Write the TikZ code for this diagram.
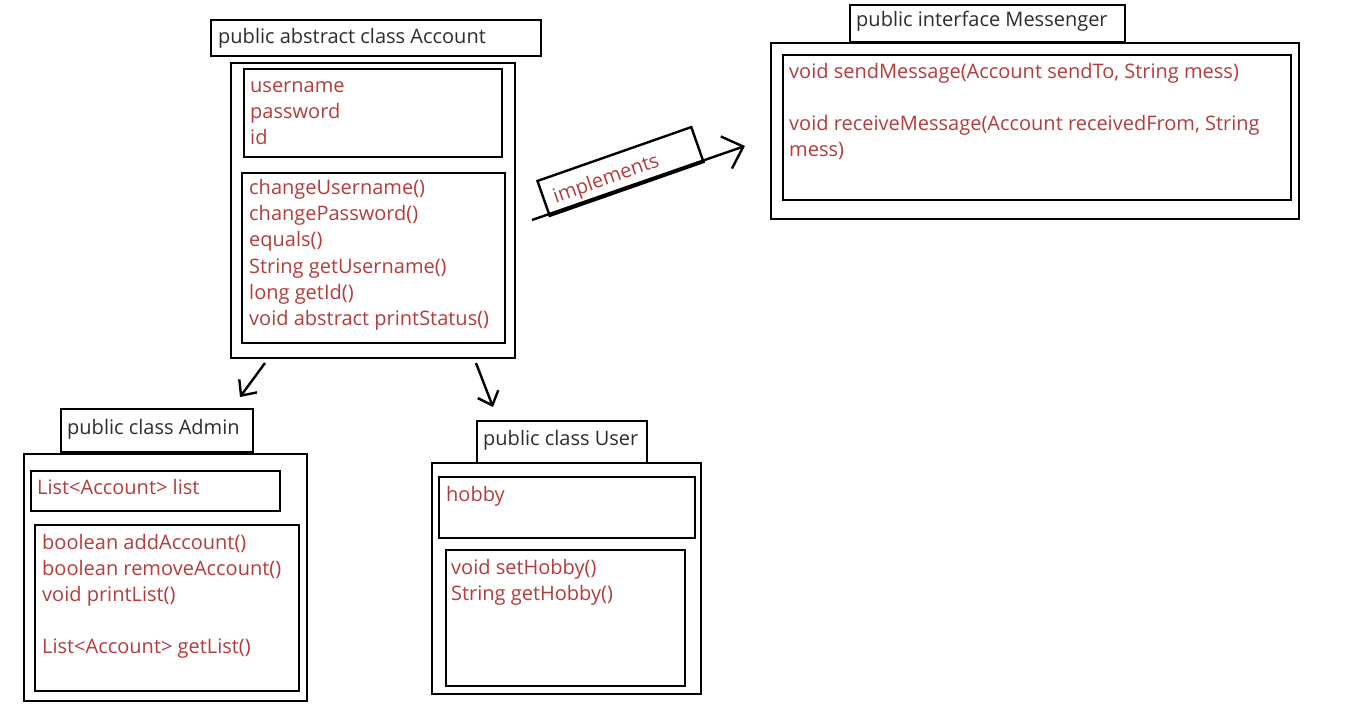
\documentclass[tikz,border=0pt]{standalone}
\usepackage{fontspec}
\setmainfont{Open Sans}
\usetikzlibrary{arrows.meta}
\definecolor{txtred}{RGB}{180,60,60}
\definecolor{txtgrey}{RGB}{45,45,45}
\begin{document}
\begin{tikzpicture}[x=1pt,y=-1pt,
  box/.style={draw, line width=2.4pt, inner sep=0pt, anchor=north west, fill=white},
  ttl/.style={anchor=base west, inner sep=0pt, text=txtgrey, font=\fontsize{20}{24}\selectfont},
  mem/.style={anchor=base west, inner sep=0pt, text=txtred, font=\fontsize{20}{24}\selectfont},
  conn/.style={line width=2.4pt, -{Straight Barb[length=12pt,width=22pt,line width=2.4pt]}}]
\useasboundingbox (0,0) rectangle (1352,711);
\fill[white] (0,0) rectangle (1352,711);

% Account
\node[box, minimum width=284pt, minimum height=295pt] (acctOuter) at (230,62) {};
\node[box, minimum width=330pt, minimum height=36pt] (acctTitle) at (210,19) {};
\node[box, minimum width=258pt, minimum height=88pt] (acctAttr) at (243,68) {};
\node[box, minimum width=263pt, minimum height=170pt] (acctMeth) at (241,172) {};
\node[ttl] (acctT) at (218,44) {public abstract class Account};
\node[mem] (aa1) at (250,93) {username};
\node[mem] (aa2) at (250,119) {password};
\node[mem] (aa3) at (250,145) {id};
\node[mem] (am1) at (249,195) {changeUsername()};
\node[mem] (am2) at (249,221) {changePassword()};
\node[mem] (am3) at (249,247) {equals()};
\node[mem] (am4) at (249,274) {String getUsername()};
\node[mem] (am5) at (249,300) {long getId()};
\node[mem] (am6) at (249,326) {void abstract printStatus()};

% Messenger
\node[box, minimum width=528pt, minimum height=176pt] (msgOuter) at (770,42) {};
\node[box, minimum width=275pt, minimum height=37pt] (msgTitle) at (849,4) {};
\node[box, minimum width=508pt, minimum height=145pt] (msgInner) at (782,54) {};
\node[ttl] (msgT) at (856,27) {public interface Messenger};
\node[mem] (mm1) at (789,79) {void sendMessage(Account sendTo, String mess)};
\node[mem] (mm2) at (789,131) {void receiveMessage(Account receivedFrom, String};
\node[mem] (mm3) at (789,157) {mess)};

% Admin
\node[box, minimum width=283pt, minimum height=247pt] (admOuter) at (23,453) {};
\node[box, minimum width=192pt, minimum height=43pt] (admTitle) at (60,408) {};
\node[box, minimum width=249pt, minimum height=40pt] (admAttr) at (30,470) {};
\node[box, minimum width=264pt, minimum height=166pt] (admMeth) at (34,524) {};
\node[ttl] (admT) at (67,434) {public class Admin};
\node[mem] (da1) at (37,494) {List<Account> list};
\node[mem] (dm1) at (42,549) {boolean addAccount()};
\node[mem] (dm2) at (42,575) {boolean removeAccount()};
\node[mem] (dm3) at (42,601) {void printList()};
\node[mem] (dm4) at (42,653) {List<Account> getList()};

% User
\node[box, minimum width=269pt, minimum height=231pt] (usrOuter) at (431,462) {};
\node[box, minimum width=170pt, minimum height=42pt] (usrTitle) at (476,420) {};
\node[box, minimum width=256pt, minimum height=61pt] (usrAttr) at (438,476) {};
\node[box, minimum width=239pt, minimum height=136pt] (usrMeth) at (445,549) {};
\node[ttl] (usrT) at (483,445) {public class User};
\node[mem] (ua1) at (446,501) {hobby};
\node[mem] (um1) at (451,574) {void setHobby()};
\node[mem] (um2) at (451,600) {String getHobby()};

% implements label
\node[draw, line width=2.4pt, rotate=19.3, minimum height=37pt, inner xsep=10pt, inner ysep=0pt,
      text width=143pt, align=left, text height=18pt, text depth=1.3pt,
      text=txtred, font=\fontsize{20}{24}\selectfont] (implBox) at (620.5,171.5) {implements};

% connectors
\coordinate (aL) at (265,363);
\coordinate (aLt) at (240,397);
\coordinate (aR) at (476,363);
\coordinate (aRt) at (493,407);
\coordinate (iS) at (532,220);
\coordinate (iT) at (745,146);
\draw[conn] (aL) -- (aLt);
\draw[conn] (aR) -- (aRt);
\draw[line width=2.4pt, -{Straight Barb[length=18pt,width=34pt,line width=2.4pt]}] (iS) -- (iT);
\end{tikzpicture}
\end{document}
